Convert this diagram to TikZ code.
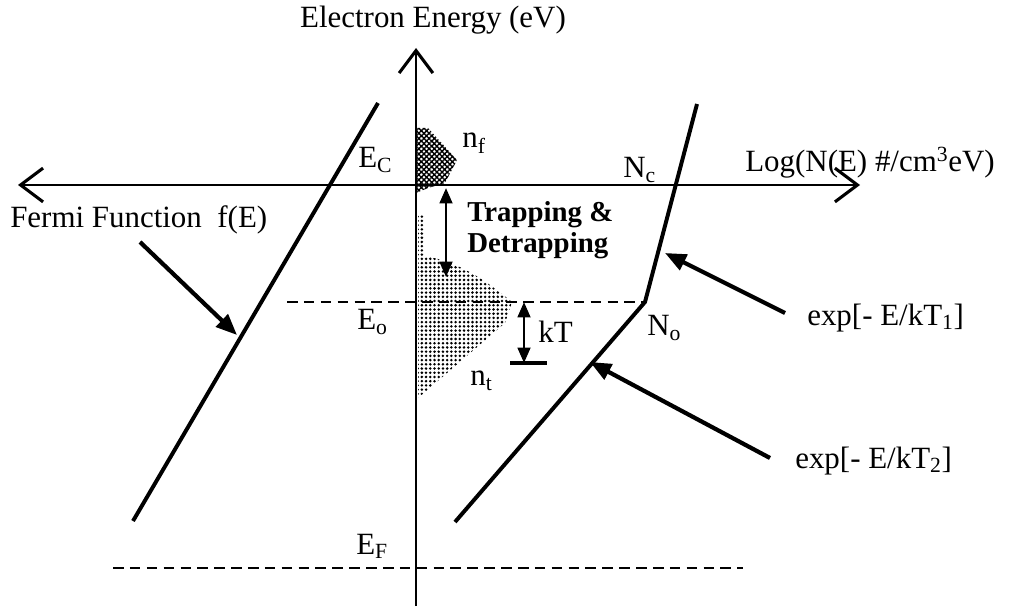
\documentclass[tikz,border=0pt]{standalone}
\usepackage{fontspec}
\setmainfont{Liberation Serif}
\usetikzlibrary{arrows.meta, patterns.meta, positioning, calc}
\tikzset{
    axis/.style={line width=2pt},
    curve/.style={line width=2.8pt},
    level/.style={line width=2pt, dash pattern=on 7.5pt off 4.5pt},
    pointer/.style={line width=3pt, -{Triangle[length=15pt, width=12pt]}},
    span/.style={line width=2pt, {Triangle[length=11pt, width=9pt]}-{Triangle[length=11pt, width=9pt]}},
    lbl/.style={font=\fontsize{22}{26}\selectfont, inner sep=0pt},
    boldlbl/.style={font=\fontsize{20.5}{20}\selectfont\bfseries, align=left, inner sep=0pt}
}

\begin{document}
\begin{tikzpicture}[x=0.025cm, y=-0.025cm, >={Straight Barb[length=16pt, width=24pt, line width=2.2pt]}]
    \useasboundingbox (0,0) rectangle (1011,609);

    % axes
    \coordinate (ytop) at (416,48);
    \coordinate (ybot) at (416,606);
    \coordinate (xl) at (18,185);
    \coordinate (xr) at (860,185);

    % shaded densities
    \fill[pattern={Hatch[angle=45, distance=2.6pt, line width=1pt]}]
        (416,128) -- (428,128) -- (457,160) -- (445,183) -- (428,188) -- (416,193) -- cycle;
    \fill[pattern={Dots[distance=3pt, radius=1pt]}]
        (418,215) -- (424,215) -- (424,256) .. controls (460,262) and (485,280) .. (512,302)
        -- (505,323) -- (418,398) -- cycle;

    \draw[axis, ->] (ybot) -- (ytop);
    \draw[axis, <->] (xl) -- (xr);

    % curves
    \coordinate (f1) at (378,103);
    \coordinate (f2) at (133,521);
    \coordinate (nc) at (697,104);
    \coordinate (no) at (645,302);
    \coordinate (nb) at (455,522);
    \draw[curve] (f1) -- (f2);
    \draw[curve, line join=round] (nc) -- (no) -- (nb);

    % levels
    \coordinate (eo) at (287,302);
    \coordinate (ef1) at (113,568);
    \coordinate (ef2) at (743,568);
    \draw[level] (eo) -- (no);
    \draw[level] (ef1) -- (ef2);

    % labels
    \node (title) [lbl, anchor=base] at (433,28) {Electron Energy (eV)};
    \node (ec) [lbl, anchor=base west] at (358,168) {E\textsubscript{C}};
    \node (nf) [lbl, anchor=base west] at (462,148) {n\textsubscript{f}};
    \node (ncl) [lbl, anchor=base west] at (623,178) {N\textsubscript{c}};
    \node (logn) [lbl, anchor=base west] at (745,172) {Log(N(E) \#/cm\textsuperscript{3}eV)};
    \node (fermi) [lbl, anchor=base west] at (10,228) {Fermi Function~~f(E)};
    \node (trap) [boldlbl, anchor=west] at (467,230) {Trapping \&\\[2pt]Detrapping};
    \node (eol) [lbl, anchor=base west] at (357,330) {E\textsubscript{o}};
    \node (ktl) [lbl, anchor=base west] at (538,343) {kT};
    \node (nol) [lbl, anchor=base west] at (647,336) {N\textsubscript{o}};
    \node (exp1) [lbl, anchor=base west] at (807,325) {exp[- E/kT\textsubscript{1}]};
    \node (ntl) [lbl, anchor=base west] at (470,386) {n\textsubscript{t}};
    \node (exp2) [lbl, anchor=base west] at (795,468) {exp[- E/kT\textsubscript{2}]};
    \node (efl) [lbl, anchor=base west] at (356,554) {E\textsubscript{F}};

    % arrows
    \coordinate (t1) at (446,188);
    \coordinate (t2) at (446,277);
    \draw[span] (t1) -- (t2);
    \coordinate (k1) at (524,302);
    \coordinate (k2) at (524,363);
    \coordinate (kb1) at (510,363);
    \coordinate (kb2) at (547,363);
    \draw[span] (k1) -- (k2);
    \draw[line width=2.2pt] (kb1) -- (kb2);

    \coordinate (fa) at (140,242);
    \coordinate (fb) at (237,335);
    \draw[pointer] (fa) -- (fb);
    \coordinate (e1a) at (785,313);
    \coordinate (e1b) at (665,253);
    \draw[pointer] (e1a) -- (e1b);
    \coordinate (e2a) at (770,458);
    \coordinate (e2b) at (590,362);
    \draw[pointer] (e2a) -- (e2b);
\end{tikzpicture}
\end{document}
